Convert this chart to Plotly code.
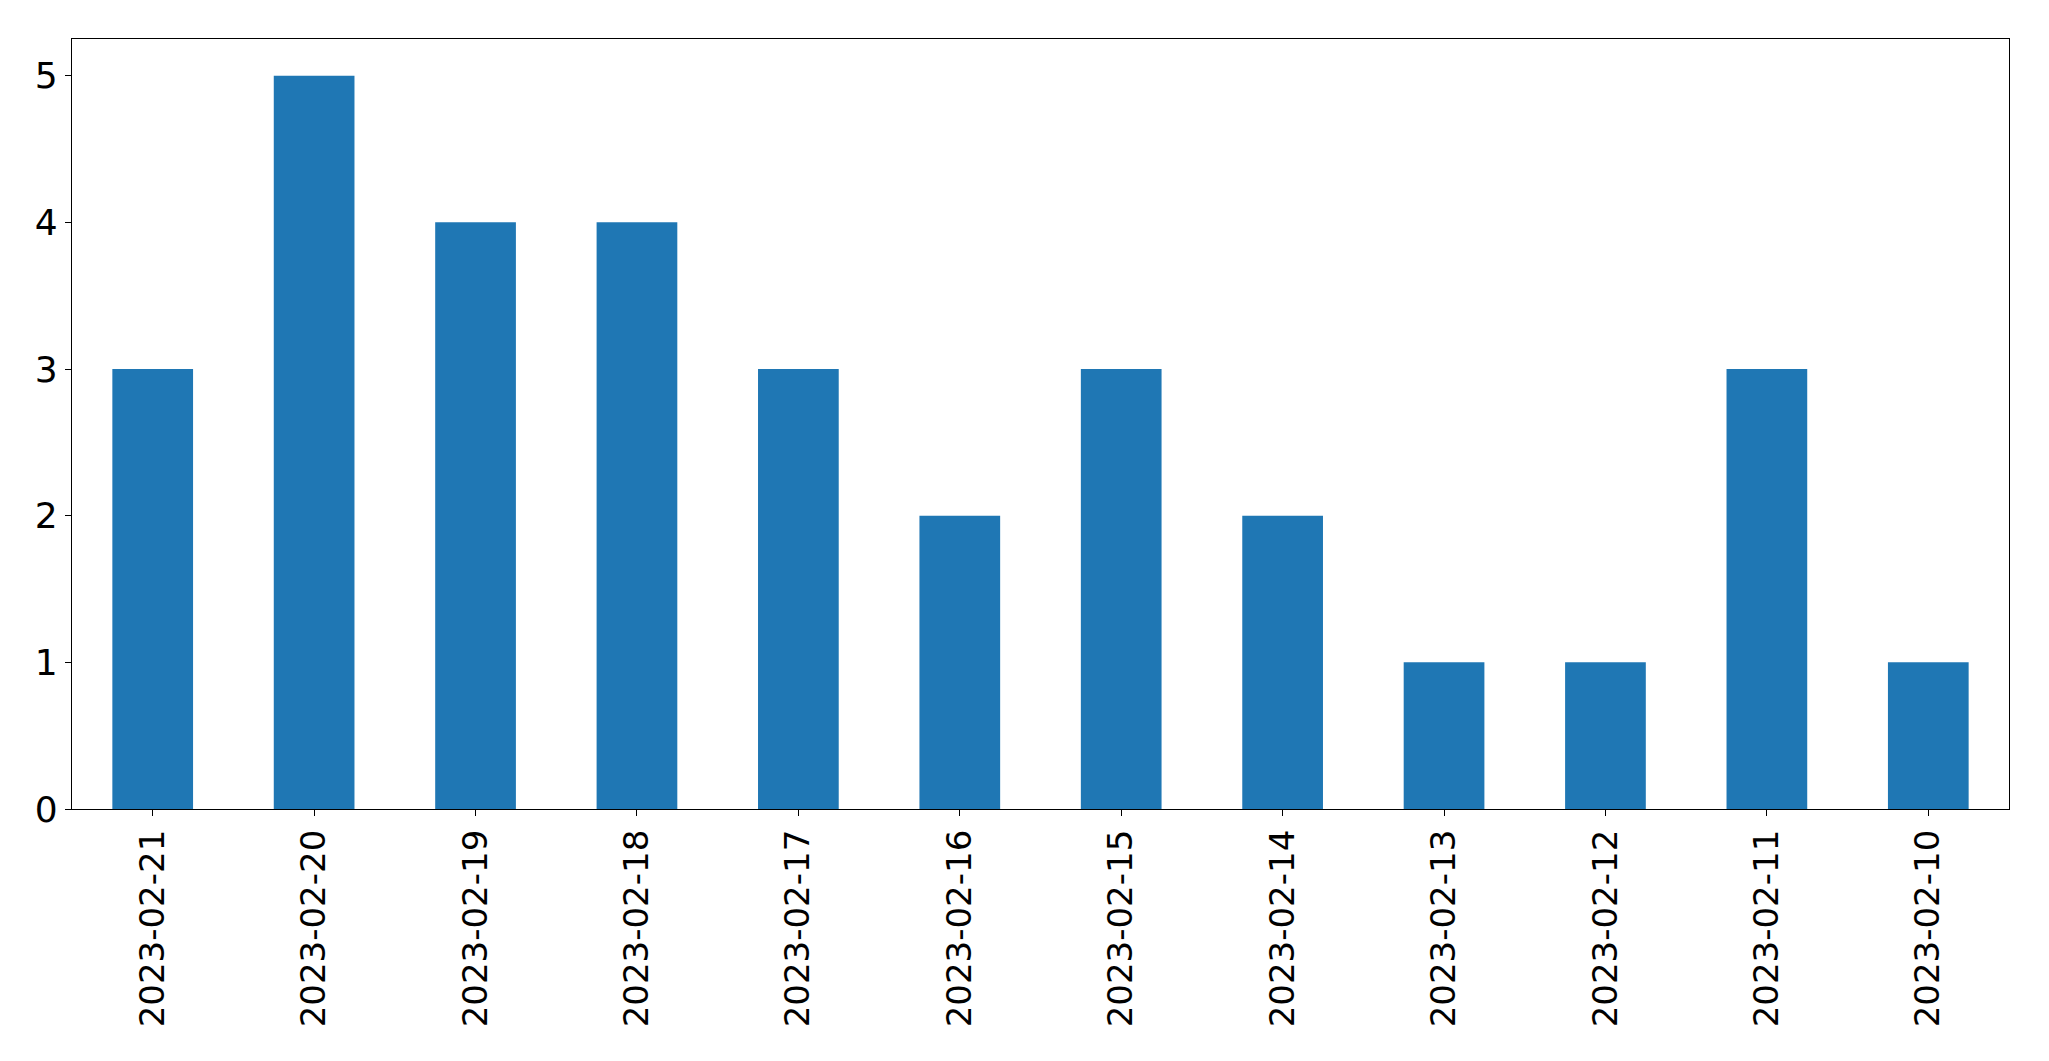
import plotly.graph_objects as go

dates = ["2023-02-21", "2023-02-20", "2023-02-19", "2023-02-18", "2023-02-17", "2023-02-16",
         "2023-02-15", "2023-02-14", "2023-02-13", "2023-02-12", "2023-02-11", "2023-02-10"]
counts = [3, 5, 4, 4, 3, 2, 3, 2, 1, 1, 3, 1]
y_ticks = [0, 1, 2, 3, 4, 5]

fig = go.Figure(go.Bar(x=dates, y=counts, width=0.5, marker=dict(color="#1f77b4", line=dict(width=0))))

# page body has an 8px default margin; keep the figure inside the window
W, H = 2033, 1045
fig.update_layout(
    width=W, height=H,
    margin=dict(l=64, r=32, t=31, b=244, pad=0),
    paper_bgcolor="white", plot_bgcolor="white",
    font=dict(family="DejaVu Sans", size=34, color="black"),
    showlegend=False,
    bargap=0.5,
)
fig.update_xaxes(
    type="category", range=[-0.5, len(dates) - 0.5],
    tickangle=-90, ticks="outside", ticklen=6, tickwidth=1, tickcolor="black",
    tickfont=dict(size=34),
    showline=True, linecolor="black", linewidth=1.3, mirror=True,
    showgrid=False, zeroline=False, ticklabelstandoff=0,
)
fig.update_yaxes(
    range=[0, 5.25], tickvals=y_ticks, ticks="outside", ticklen=6, tickwidth=1, tickcolor="black",
    tickfont=dict(size=36),
    showline=True, linecolor="black", linewidth=1.3, mirror=True,
    showgrid=False, zeroline=False, ticklabelstandoff=0,
)

fig.write_html("out.html")
